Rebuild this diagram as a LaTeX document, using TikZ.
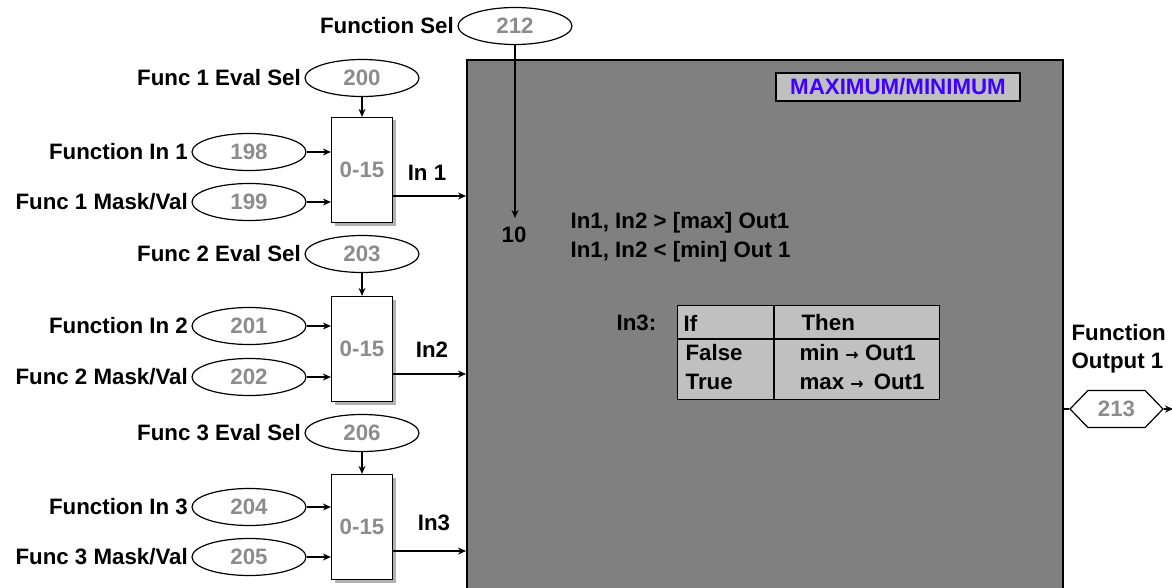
\documentclass[tikz,border=0pt]{standalone}
\usepackage{fontspec}
\setmainfont{Liberation Sans}
\newfontfamily\symfont{DejaVu Sans}
\usepackage{tikz}
\usetikzlibrary{positioning,arrows.meta,shapes.geometric,shapes.symbols,shadows}

\definecolor{panelgray}{HTML}{808080}
\definecolor{tablegray}{HTML}{C0C0C0}
\definecolor{titleblue}{HTML}{3F00FF}
\definecolor{numgray}{HTML}{8C8C8C}
\newcommand{\diagfont}{\fontsize{22.3}{28}\selectfont\bfseries}
\newcommand{\smallarrow}{{\symfont\fontsize{16}{16}\selectfont\bfseries →}}

\tikzset{
  lbl/.style={font=\diagfont, inner sep=1pt},
  tag/.style={draw, ellipse, minimum width=114pt, minimum height=37pt, inner sep=0pt,
    text=numgray, font=\diagfont},
  mux/.style={draw, fill=white, minimum width=61pt, minimum height=105pt, inner sep=0pt,
    text=numgray, font=\diagfont,
    drop shadow={shadow xshift=3pt, shadow yshift=-3pt, fill=black!30, opacity=1}},
  panel/.style={draw, line width=2pt, fill=panelgray, minimum width=596pt, minimum height=560pt},
  heading/.style={draw, fill=tablegray, text=titleblue, font=\diagfont,
    minimum width=244pt, minimum height=28pt, inner sep=0pt},
  hexa/.style={draw, signal, signal to=east and west, signal pointer angle=92,
    minimum width=93pt, minimum height=37pt, inner sep=0pt, text=numgray, font=\diagfont},
}

\begin{document}
\begin{tikzpicture}[x=1pt, y=-1pt, line width=1.2pt, >={Stealth[length=8pt,width=7pt]}]
\useasboundingbox (0,0) rectangle (1172,588);

% main block
\node[panel, anchor=north west] (maxmin) at (466,59) {};
\node[heading] (title) at (898,87) {MAXIMUM/MINIMUM};

\node[tag] (fsel) at (515,26) {212};
\node[lbl, left=2pt of fsel] (fsellbl) {Function Sel};
\node[lbl] (selval) at (514,235) {10};
\coordinate (seltip) at (515,218);
\draw[->] (fsel.south) -- (seltip);

\node[lbl, anchor=west] (rule1) at (569,223) {In1, In2 > [max] Out1};
\node[lbl, anchor=west] (rule2) at (569,252) {In1, In2 < [min] Out 1};

% In3 table
\node[lbl, anchor=west] (in3tag) at (615,323) {In3:};
\node[draw, fill=tablegray, minimum width=262pt, minimum height=94pt, anchor=north west] (tbl) at (677,305) {};
\draw ([yshift=-34pt]tbl.north west) -- ([yshift=-34pt]tbl.north east);
\draw ([xshift=97pt]tbl.north west) -- ([xshift=97pt]tbl.south west);
\node[lbl, anchor=west] (cif) at (682,323) {If};
\node[lbl, anchor=west] (cthen) at (800,323) {Then};
\node[lbl, anchor=west] (cfalse) at (684,353) {False};
\node[lbl, anchor=west] (ctrue) at (684,382) {True};
\node[lbl, anchor=west] (cmin) at (798,353) {min \smallarrow{} Out1};
\node[lbl, anchor=west] (cmax) at (798,382) {max \smallarrow{}\, Out1};

% channel 1
\node[mux] (mux1) at (362,170) {0-15};
\node[tag] (eval1) at (362,78) {200};
\node[lbl, left=2pt of eval1] (eval1lbl) {Func 1 Eval Sel};
\node[tag] (fin1) at (249,152) {198};
\node[lbl, left=2pt of fin1] (fin1lbl) {Function In 1};
\node[tag] (mask1) at (249,202) {199};
\node[lbl, left=2pt of mask1] (mask1lbl) {Func 1 Mask/Val};
\node[lbl] (in1lbl) at (427,173) {In 1};
\draw[->] (eval1.south) -- (mux1.north);
\draw[->] (fin1.east) -- (fin1.east -| mux1.west);
\draw[->] (mask1.east) -- (mask1.east -| mux1.west);
\draw[->] ([yshift=-26pt]mux1.east) -- ([yshift=-26pt]mux1.east -| maxmin.west);

% channel 2
\node[mux] (mux2) at (362,349) {0-15};
\node[tag] (eval2) at (362,254) {203};
\node[lbl, left=2pt of eval2] (eval2lbl) {Func 2 Eval Sel};
\node[tag] (fin2) at (249,326) {201};
\node[lbl, left=2pt of fin2] (fin2lbl) {Function In 2};
\node[tag] (mask2) at (249,377) {202};
\node[lbl, left=2pt of mask2] (mask2lbl) {Func 2 Mask/Val};
\node[lbl] (in2lbl) at (432,350) {In2};
\draw[->] (eval2.south) -- (mux2.north);
\draw[->] (fin2.east) -- (fin2.east -| mux2.west);
\draw[->] (mask2.east) -- (mask2.east -| mux2.west);
\draw[->] ([yshift=-25pt]mux2.east) -- ([yshift=-25pt]mux2.east -| maxmin.west);

% channel 3
\node[mux] (mux3) at (362,527) {0-15};
\node[tag] (eval3) at (362,433) {206};
\node[lbl, left=2pt of eval3] (eval3lbl) {Func 3 Eval Sel};
\node[tag] (fin3) at (249,507) {204};
\node[lbl, left=2pt of fin3] (fin3lbl) {Function In 3};
\node[tag] (mask3) at (249,557) {205};
\node[lbl, left=2pt of mask3] (mask3lbl) {Func 3 Mask/Val};
\node[lbl] (in3lbl) at (434,523) {In3};
\draw[->] (eval3.south) -- (mux3.north);
\draw[->] (fin3.east) -- (fin3.east -| mux3.west);
\draw[->] (mask3.east) -- (mask3.east -| mux3.west);
\draw[->] ([yshift=-24pt]mux3.east) -- ([yshift=-24pt]mux3.east -| maxmin.west);

% output
\node[hexa] (fout) at (1116.5,409) {213};
\node[lbl, align=left, anchor=west] (foutlbl) at (1070,349) {Function\\Output 1};
\coordinate (outend) at (1173,409);
\draw (maxmin.east |- fout.west) -- (fout.west);
\draw[->] (fout.east) -- (outend);

\end{tikzpicture}
\end{document}
